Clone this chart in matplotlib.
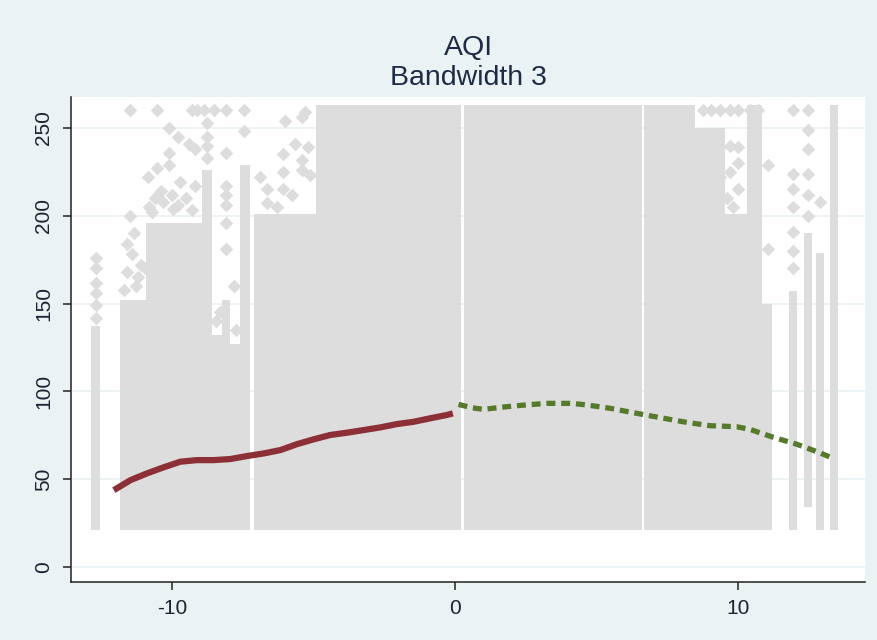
import matplotlib.pyplot as plt

plt.rcParams['font.family'] = ['Liberation Sans', 'DejaVu Sans']
plt.rcParams['axes.unicode_minus'] = False

# fitted lines (left / right of the cutoff)
left_x = [-12.05, -11.46, -10.87, -10.29, -9.70, -9.11, -8.53, -7.94, -7.35, -6.76, -6.17,
          -5.58, -5.00, -4.41, -3.82, -3.23, -2.65, -2.06, -1.47, -0.88, -0.29, -0.08]
left_y = [43.8, 49.5, 53.4, 56.8, 60.0, 60.9, 60.9, 61.5, 63.2, 64.7, 66.6,
          70.0, 72.7, 75.2, 76.5, 78.0, 79.5, 81.4, 82.7, 84.7, 86.6, 87.5]
right_x = [0.12, 0.59, 1.00, 1.82, 2.35, 3.23, 4.12, 4.64, 5.47, 6.29, 7.23, 8.17,
           9.00, 9.94, 10.41, 11.23, 12.05, 12.87, 13.34]
right_y = [92.6, 90.7, 89.8, 91.3, 92.1, 93.2, 93.2, 92.3, 90.4, 87.9, 85.1, 82.4,
           80.5, 79.9, 78.4, 73.9, 70.0, 65.1, 61.9]

# raw AQI cloud, summarised as dense vertical strips (x from, x to, low, high)
strip_x0 = [-12.84, -11.82, -10.93, -8.92, -8.57, -8.22, -7.94, -7.58, -7.09, -4.90,
            0.32, 6.67, 8.47, 9.52, 10.30, 10.83, 11.78, 12.31, 12.73, 13.23]
strip_x1 = [-12.52, -10.93, -8.92, -8.57, -8.22, -7.94, -7.58, -7.23, -4.90, 0.21,
            6.60, 8.47, 9.52, 10.30, 10.83, 11.18, 12.06, 12.59, 13.02, 13.51]
strip_lo = [21, 21, 21, 21, 21, 21, 21, 21, 21, 21,
            21, 21, 21, 21, 21, 21, 21, 34, 21, 21]
strip_hi = [137, 152, 196, 226, 132, 152, 127, 229, 201, 263,
            263, 263, 250, 201, 263, 150, 157, 190, 179, 263]

# isolated observations above the strips
out_x = [-12.67, -12.67, -12.67, -12.67, -12.67, -12.67,
         -11.49, -10.52, -9.29, -9.10, -8.88, -8.53, -8.08, -7.45,
         -10.11, -9.79, -9.41, -9.17, -10.11, -10.11, -10.52, -10.85, -9.70, -9.17,
         -8.08, -8.08, -8.08, -8.08, -8.08, -8.08, -6.88, -6.63, -6.63,
         -11.49, -11.35, -11.60, -11.40, -11.10, -11.60, -11.20,
         -8.75, -8.75, -8.75, -8.75, -7.45,
         -6.00, -5.41, -5.29, -5.65, -5.18, -6.06, -5.41, -5.41, -6.06, -5.12,
         -6.06, -5.76, -6.30,
         -10.80, -10.60, -10.30, -10.00, -9.80, -9.50, -9.30, -10.70, -10.40, -9.95,
         -11.70, -11.25, -10.95, -8.45, -8.30, -7.75, -7.80,
         8.76, 9.05, 9.35, 9.70, 9.99, 10.41, 10.70, 11.93, 12.46,
         12.46, 9.05, 9.35, 9.70, 9.99, 11.05, 11.93, 12.46, 12.87, 11.05,
         11.93, 11.93, 11.93, 12.46, 12.46, 9.20, 9.70, 9.99, 9.35, 10.00,
         9.60, 9.80, 11.93, 11.93, 12.46]
out_y = [176, 170, 162, 156, 149, 142,
         260, 260, 260, 260, 260, 260, 260, 260,
         250, 245, 241, 238, 236, 229, 227, 222, 219, 217,
         236, 217, 212, 206, 196, 181, 222, 215, 207,
         200, 190, 184, 178, 172, 168, 165,
         253, 245, 240, 233, 248,
         254, 256, 259, 241, 239, 235, 232, 226, 225, 223,
         215, 212, 205,
         205, 210, 208, 212, 206, 210, 203, 202, 214, 204,
         158, 160, 170, 140, 145, 135, 160]
out_y += [260, 260, 260, 260, 260, 260, 260, 260, 260,
          249, 244, 239, 240, 239, 229, 224, 224, 208, 181,
          191, 215, 205, 212, 200, 230, 225, 230, 222, 215,
          210, 205, 180, 170, 238]

bg = '#eaf2f3'
gray = '#dddddd'

fig = plt.figure(figsize=(8.77, 6.4), dpi=100)
fig.patch.set_facecolor(bg)
ax = fig.add_axes([0.081, 0.0906, 0.905, 0.7578])
ax.set_facecolor('white')

ax.bar(strip_x0, [b - a for a, b in zip(strip_lo, strip_hi)],
       width=[b - a for a, b in zip(strip_x0, strip_x1)], bottom=strip_lo,
       align='edge', color=gray, linewidth=0, zorder=2)
ax.scatter(out_x, out_y, marker='D', s=48, color=gray, linewidths=0, zorder=2)

ax.plot(left_x, left_y, color='#8c2f36', lw=4.5, solid_capstyle='butt', zorder=3)
ax.plot(right_x, right_y, color='#567a2c', lw=3.8, dashes=(1.7, 1.1),
        dash_capstyle='butt', zorder=3)

ax.set_xlim(-13.56, 14.46)
ax.set_ylim(-8.5, 267.6)
ax.set_xticks([-10, 0, 10])
ax.set_yticks([0, 50, 100, 150, 200, 250])
ax.yaxis.grid(True, color=bg, lw=1.3, zorder=1)
ax.set_axisbelow(True)

for s in ['top', 'right']:
    ax.spines[s].set_visible(False)
for s in ['left', 'bottom']:
    ax.spines[s].set_linewidth(1.1)
    ax.spines[s].set_color('#222222')

ax.tick_params(axis='both', length=6, width=1.1, color='#222222',
               labelsize=15, labelcolor='#1c2230')
ax.tick_params(axis='x', pad=6)
ax.tick_params(axis='y', pad=7)
plt.setp(ax.get_yticklabels(), rotation=90, va='center')

fig.text(0.5337, 0.914, 'AQI', ha='center', va='baseline', fontsize=20.5, color='#1e2a46')
fig.text(0.5337, 0.867, 'Bandwidth 3', ha='center', va='baseline', fontsize=20.5, color='#1e2a46')

fig.savefig('out.png', dpi=100, facecolor=bg)
